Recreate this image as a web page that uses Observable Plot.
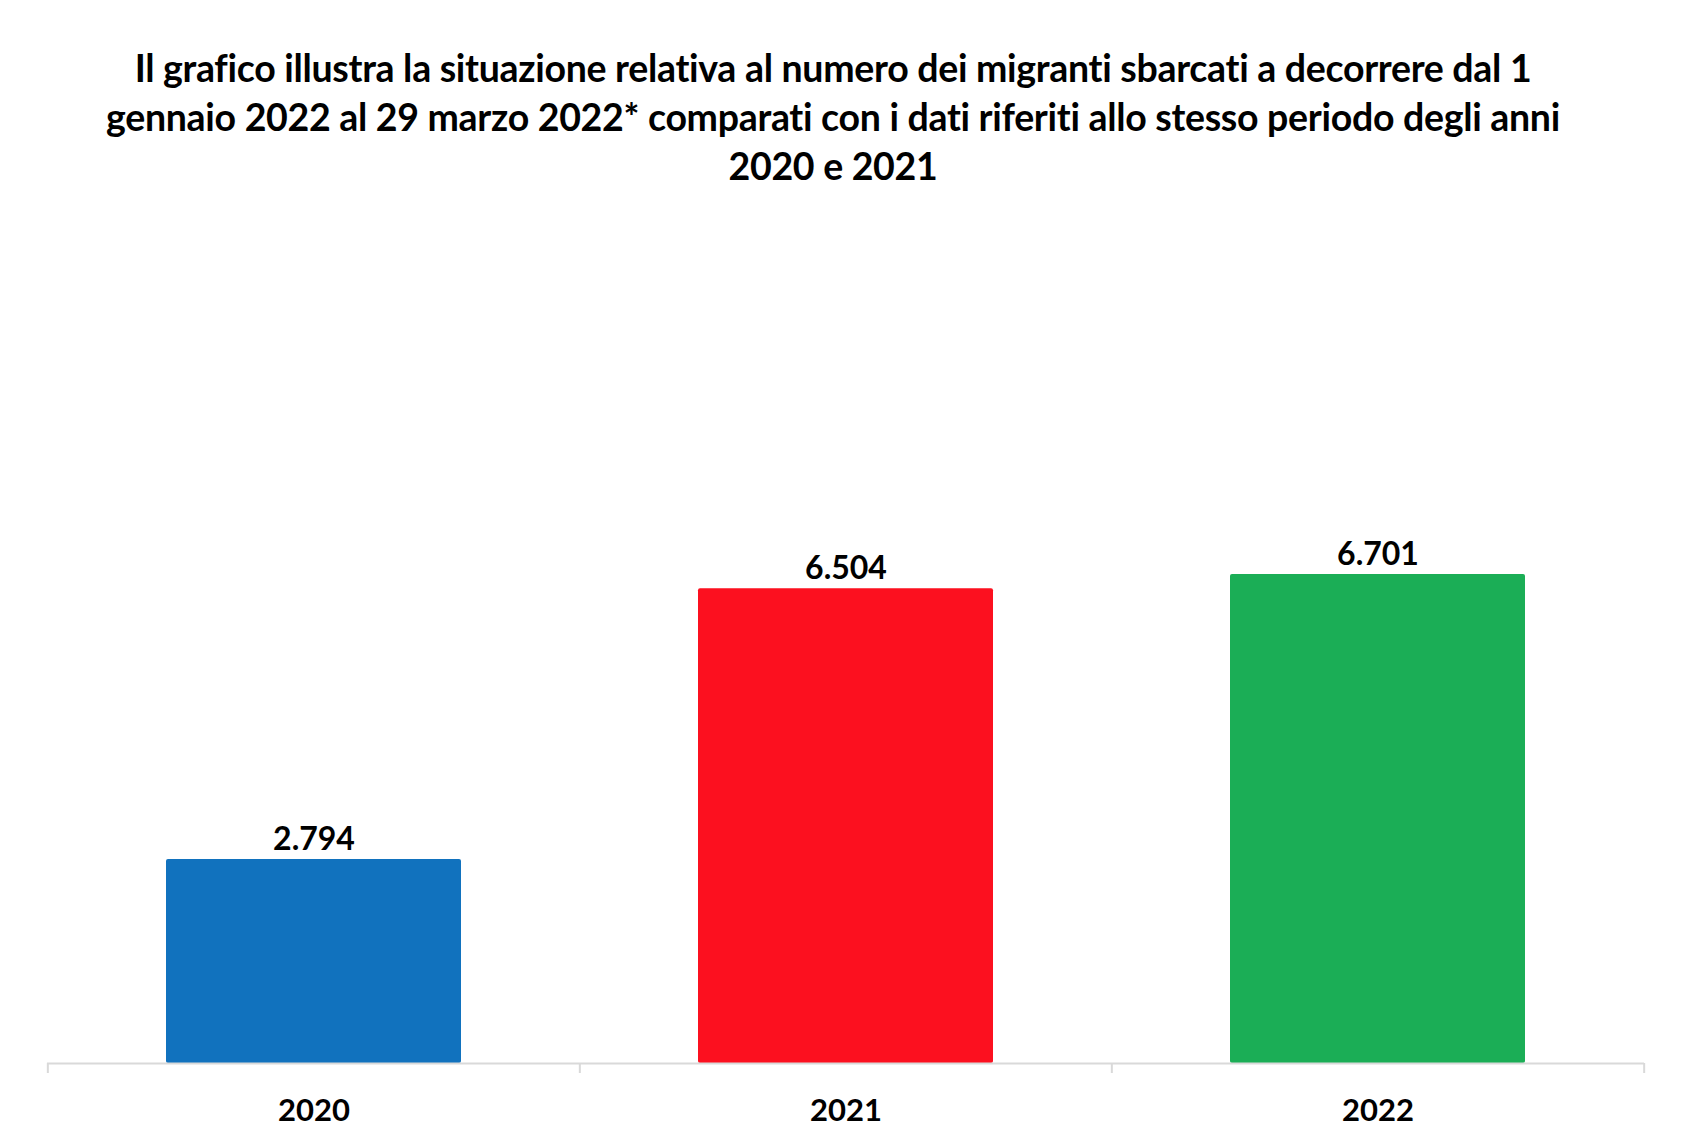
<!DOCTYPE html>
<html>
<head>
<meta charset="utf-8">
<script src="https://cdn.jsdelivr.net/npm/d3@7"></script>
<script src="https://cdn.jsdelivr.net/npm/@observablehq/plot@0.6"></script>
<style>
  html, body { margin: 0; padding: 0; background: #fff; }
  body { width: 1696px; height: 1140px; position: relative; overflow: hidden; font-family: Lato, "Open Sans", sans-serif; }
  #title { position: absolute; left: 0; top: 43px; width: 1666px; text-align: center; font-weight: 700; font-size: 37.5px; line-height: 49px; color: #000; letter-spacing: -0.3px; white-space: nowrap; }
  #chart { position: absolute; left: 0; top: 200px; }
</style>
</head>
<body>
<div id="title"></div>
<div id="chart"></div>
<script>
const titleLines = [
  "Il grafico illustra la situazione relativa al numero dei migranti sbarcati a decorrere dal 1",
  "gennaio 2022 al 29 marzo 2022* comparati con i dati riferiti allo stesso periodo degli anni",
  "2020 e 2021"
];
const years = ["2020", "2021", "2022"];
const migranti = [2794, 6504, 6701];
const labels = ["2.794", "6.504", "6.701"];
const colors = ["#1172BE", "#FC101F", "#1BAE56"];

document.getElementById("title").innerHTML = titleLines.join("<br>");

const data = years.map((y, i) => ({year: y, value: migranti[i], label: labels[i], color: colors[i]}));

const W = 1696, H = 940, ML = 47, MR = 52;
const step = (W - ML - MR) / years.length;

const plot = Plot.plot({
  width: W,
  height: H,
  marginLeft: ML,
  marginRight: MR,
  marginTop: 20,
  marginBottom: 77,
  style: {fontFamily: "Lato, 'Open Sans', sans-serif", background: "#fff", overflow: "visible"},
  x: {domain: years, paddingInner: 0.445, paddingOuter: 0.2225, label: null},
  y: {domain: [0, 11550], axis: null},
  marks: [
    Plot.barY(data, {x: "year", y: "value", fill: d => d.color, rx: 2}),
    Plot.ruleY([0], {stroke: "#d9d9d9", strokeWidth: 2}),
    Plot.ruleX(years, {x: d => d, y1: 0, y2: 0, dx: -step / 2, insetBottom: -10, stroke: "#d9d9d9", strokeWidth: 2}),
    Plot.ruleX([years[years.length - 1]], {x: d => d, y1: 0, y2: 0, dx: step / 2, insetBottom: -10, stroke: "#d9d9d9", strokeWidth: 2}),
    Plot.text(data, {x: "year", y: "value", text: "label", dy: -20, fontSize: 32, fontWeight: 700, fill: "#000"}),
    Plot.axisX({tickSize: 0, tickPadding: 35, fontSize: 31, fontWeight: 700, fill: "#000", label: null})
  ]
});
document.getElementById("chart").appendChild(plot);
</script>
</body>
</html>
